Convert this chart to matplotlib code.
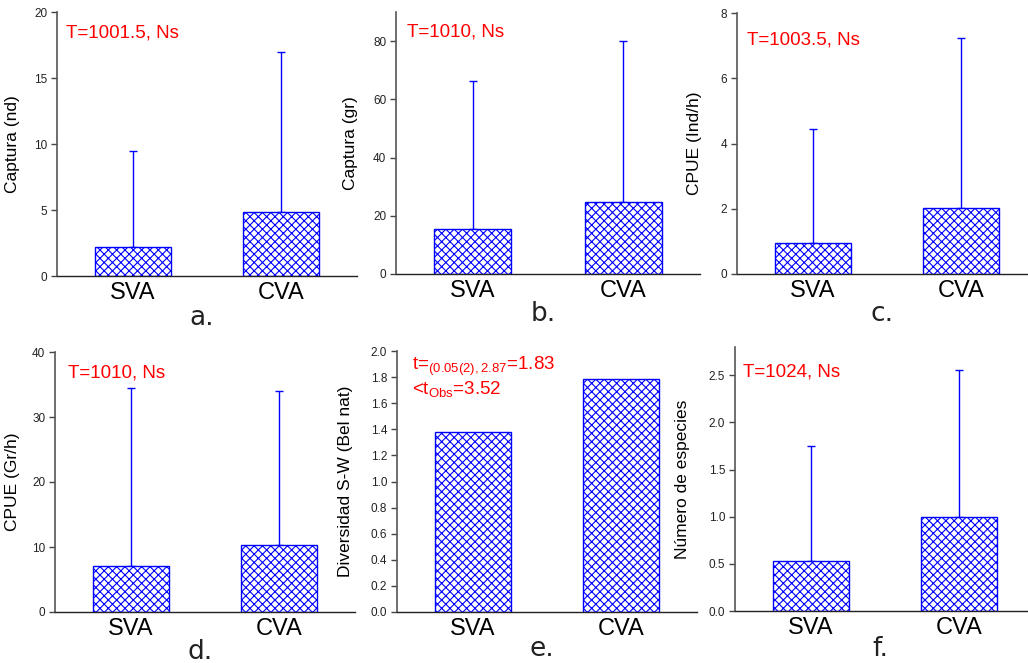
import numpy as np
import matplotlib
matplotlib.use('Agg')
import matplotlib.pyplot as plt

# 数据
grupos = ['SVA', 'CVA']

captura_nd = [2.2, 4.85]
captura_nd_sup = [9.45, 16.95]

captura_gr = [15.3, 24.7]
captura_gr_sup = [66.4, 80.2]

cpue_ind = [0.94, 2.02]
cpue_ind_sup = [4.44, 7.22]

cpue_gr = [7.08, 10.26]
cpue_gr_sup = [34.4, 34.05]

diversidad = [1.378, 1.783]

especies = [0.531, 1.002]
especies_sup = [1.746, 2.56]

W, H = 1028, 663
plt.rcParams['font.family'] = ['Liberation Sans', 'DejaVu Sans']
plt.rcParams['hatch.linewidth'] = 0.8

fig = plt.figure(figsize=(W / 100, H / 100), dpi=100)

azul = '#0000ff'
rojo = '#ff0000'


def make_ax(left, right, top, bottom):
    return fig.add_axes([left / W, 1 - bottom / H, (right - left) / W, (bottom - top) / H])


def panel(pos, vals, sup, ylim, yticks, yfmt, ylabel, ylab_x, letra, letra_y, nota, nota_xy):
    left, right, top, bottom = pos
    ax = make_ax(left, right, top, bottom)
    x = np.arange(len(vals))
    ax.bar(x, vals, width=0.51, color='white', edgecolor=azul, hatch='xxxx', linewidth=1.0, zorder=2)
    if sup is not None:
        err = np.array(sup) - np.array(vals)
        ax.errorbar(x, vals, yerr=[np.zeros(len(vals)), err], fmt='none', ecolor=azul,
                    elinewidth=1.0, capsize=3, capthick=1.0, zorder=1)
    ax.set_xlim(-0.51, 1.51)
    ax.set_ylim(*ylim)
    ax.set_yticks(yticks)
    ax.set_yticklabels([yfmt.format(v) for v in yticks], fontsize=8.5, color='#222222')
    ax.set_xticks(x)
    ax.set_xticklabels(grupos, fontsize=17)
    ax.tick_params(axis='x', length=0, pad=4)
    ax.tick_params(axis='y', length=4, width=1, color='#444444', pad=3)
    for s in ['top', 'right']:
        ax.spines[s].set_visible(False)
    ax.spines['left'].set_color('#555555')
    ax.spines['left'].set_linewidth(1.2)
    ax.spines['bottom'].set_color('#222222')
    ax.spines['bottom'].set_linewidth(1.0)
    ax.set_ylabel(ylabel, fontsize=12.5)
    ax.yaxis.set_label_coords((ylab_x - left) / (right - left), 0.5)
    # letra del panel
    fig.text(((left + right) / 2 - 5) / W, 1 - letra_y / H, letra, ha='center', va='baseline',
             fontsize=19, family=['DejaVu Sans'], color='#222222')
    if nota is not None:
        fig.text(nota_xy[0] / W, 1 - nota_xy[1] / H, nota, color=rojo, fontsize=13.5,
                 ha='left', va='center')
    return ax


panel((57, 357, 12, 276), captura_nd, captura_nd_sup, (0, 20), [0, 5, 10, 15, 20], '{:g}',
      'Captura (nd)', 20, 'a.', 325, 'T=1001.5, Ns', (66, 33))
panel((396, 700, 12, 274), captura_gr, captura_gr_sup, (0, 90), [0, 20, 40, 60, 80], '{:g}',
      'Captura (gr)', 358, 'b.', 321, 'T=1010, Ns', (407, 32))
panel((737, 1037, 13, 274), cpue_ind, cpue_ind_sup, (0, 8), [0, 2, 4, 6, 8], '{:g}',
      'CPUE (Ind/h)', 702, 'c.', 321, 'T=1003.5, Ns', (747, 40))
panel((55, 355, 352, 612), cpue_gr, cpue_gr_sup, (0, 40), [0, 10, 20, 30, 40], '{:g}',
      'CPUE (Gr/h)', 20, 'd.', 659, 'T=1010, Ns', (68, 373))
panel((397, 697, 351, 612), diversidad, None, (0, 2.0), np.round(np.arange(0, 2.01, 0.2), 1), '{:.1f}',
      'Diversidad S-W (Bel nat)', 353, 'e.', 656, None, None)
panel((735, 1035, 347, 611), especies, especies_sup, (0, 2.8), [0, 0.5, 1.0, 1.5, 2.0, 2.5], '{:.1f}',
      'Número de especies', 690, 'f.', 656, 'T=1024, Ns', (743, 372))

# texto del panel e
fig.text(412 / W, 1 - 366 / H, r't=$_{\mathregular{(0.05(2),2.87}}$=1.83', color=rojo, fontsize=13.5,
         ha='left', va='center')
fig.text(412 / W, 1 - 390 / H, r'<t$_{\mathregular{Obs}}$=3.52', color=rojo, fontsize=13.5,
         ha='left', va='center')

fig.savefig('out.png', dpi=100)
